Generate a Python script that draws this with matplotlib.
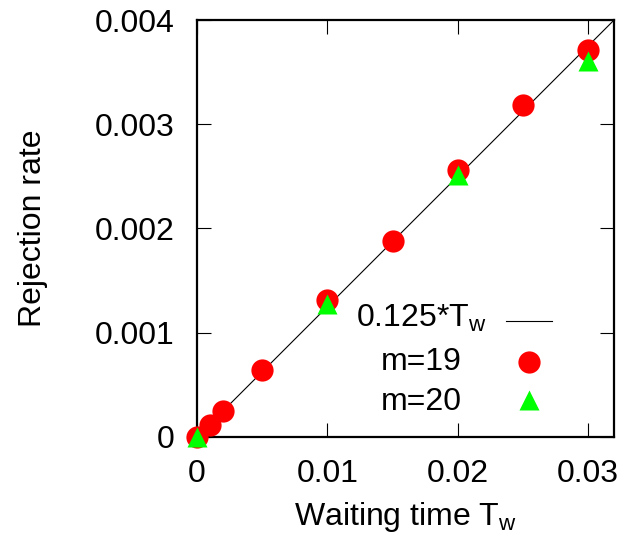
import matplotlib.pyplot as plt
from matplotlib.lines import Line2D

plt.rcParams["font.family"] = ["Liberation Sans", "DejaVu Sans"]
plt.rcParams["mathtext.fontset"] = "custom"
plt.rcParams["mathtext.rm"] = "Liberation Sans"
plt.rcParams["font.size"] = 23

# data
tw_19 = [0.0, 0.001, 0.002, 0.005, 0.01, 0.015, 0.02, 0.025, 0.03]
rate_19 = [0.0, 0.000115, 0.00025, 0.00064, 0.00131, 0.00188, 0.00256, 0.00318, 0.00371]
tw_20 = [0.0, 0.01, 0.02, 0.03]
rate_20 = [0.0, 0.00128, 0.00251, 0.00361]
slope = 0.125
line_x = [0.0, 0.032]

x_ticks = [0.0, 0.01, 0.02, 0.03]
x_labels = ["0", "0.01", "0.02", "0.03"]
y_ticks = [0.0, 0.001, 0.002, 0.003, 0.004]
y_labels = ["0", "0.001", "0.002", "0.003", "0.004"]

fig = plt.figure(figsize=(6.39, 5.35), dpi=100)
ax = fig.add_axes([0.3083, 0.1832, 0.6527, 0.7794])

ax.plot(line_x, [slope * x for x in line_x], color="black", lw=0.8, zorder=2)
ax.plot(tw_19, rate_19, "o", color="#ff0000", ms=16, mec="none",
        clip_on=False, zorder=3)
ax.plot(tw_20, rate_20, "^", color="#00ff00", ms=14, mec="none",
        clip_on=False, zorder=4)

ax.set_xlim(0, 0.032)
ax.set_ylim(0, 0.004)
ax.set_xticks(x_ticks)
ax.set_xticklabels(x_labels)
ax.set_yticks(y_ticks)
ax.set_yticklabels(y_labels)
ax.tick_params(direction="in", length=10, width=0.8, top=True, right=True)
ax.tick_params(axis="x", pad=16)
ax.tick_params(axis="y", pad=16)
for s in ax.spines.values():
    s.set_linewidth(1.6)

ax.set_xlabel(r"Waiting time T$_\mathrm{w}$", labelpad=8)
ax.set_ylabel("Rejection rate", labelpad=34)

# gnuplot-style key: right-aligned text, sample on the right
tr = ax.transAxes
ax.text(0.695, 0.285, r"0.125*T$_\mathrm{w}$", transform=tr, ha="right", va="center")
ax.add_line(Line2D([0.741, 0.851], [0.278, 0.278], transform=tr, color="black", lw=0.8))
ax.text(0.635, 0.180, "m=19", transform=tr, ha="right", va="center")
ax.add_line(Line2D([0.796], [0.180], transform=tr, marker="o", color="#ff0000",
                   ms=16, mec="none"))
ax.text(0.635, 0.085, "m=20", transform=tr, ha="right", va="center")
ax.add_line(Line2D([0.796], [0.089], transform=tr, marker="^", color="#00ff00",
                   ms=14, mec="none"))

fig.savefig("out.png", dpi=100)
